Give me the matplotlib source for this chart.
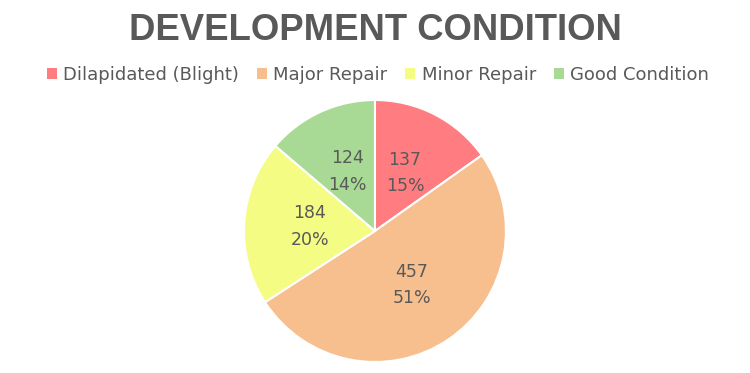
import matplotlib
matplotlib.use("Agg")
import matplotlib.pyplot as plt
from matplotlib.patches import Patch

categories = ["Dilapidated (Blight)", "Major Repair", "Minor Repair", "Good Condition"]
counts = [137, 457, 184, 124]
colors = ["#FF7C80", "#F8BF8E", "#F4FC83", "#A8DA95"]

gray = "#595959"
total = sum(counts)

fig = plt.figure(figsize=(7.5, 3.73), dpi=100)

# pie placed explicitly so it sits where the reference has it
ax = fig.add_axes([0.3253, 0.0295, 0.3493, 0.7024])
wedges, texts = ax.pie(
    counts,
    colors=colors,
    startangle=90,
    counterclock=False,
    labels=[f"{c}\n{round(c / total * 100)}%" for c in counts],
    labeldistance=0.5,
    wedgeprops=dict(edgecolor="white", linewidth=1.5),
    textprops=dict(color=gray, fontsize=12.5, ha="center", va="center", linespacing=1.6),
)
ax.set_xlim(-1, 1)
ax.set_ylim(-1, 1)
ax.set_aspect("equal")

fig.text(0.5, 0.918, "DEVELOPMENT CONDITION", ha="center", va="center",
         fontsize=26.3, fontweight="bold", color=gray, family="Liberation Sans")

handles = [Patch(facecolor=c, edgecolor="none") for c in colors]
fig.legend(handles, categories, loc="center", bbox_to_anchor=(0.504, 0.80),
           ncol=4, frameon=False, fontsize=13, labelcolor=gray,
           handlelength=0.55, handleheight=0.55, handletextpad=0.35, columnspacing=1.0)

fig.savefig("out.png", dpi=100)
